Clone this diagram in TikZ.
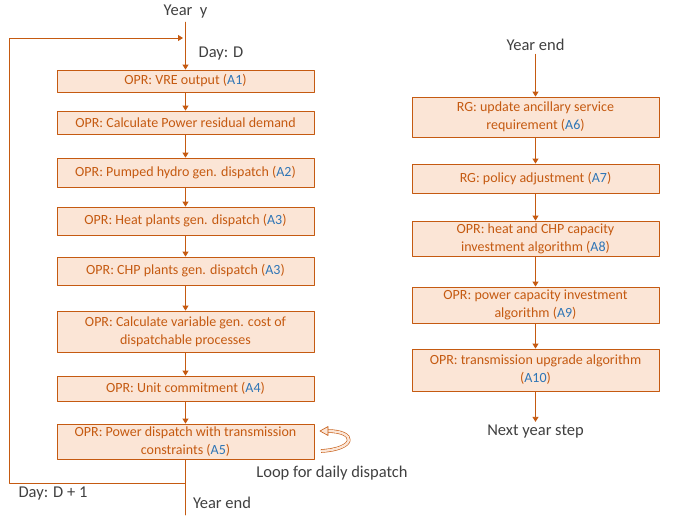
\documentclass[tikz,border=0pt]{standalone}
\usepackage{fontspec}
\setmainfont{Carlito}
\usetikzlibrary{arrows.meta}
\definecolor{Oedge}{RGB}{197,90,17}
\definecolor{Ofill}{RGB}{251,229,214}
\definecolor{Ablue}{RGB}{46,117,182}
\definecolor{Tgray}{RGB}{64,64,64}
\newcommand{\stepref}[1]{(\textcolor{Ablue}{#1})}

\begin{document}
\begin{tikzpicture}[x=1pt,y=-1pt,line cap=round,line join=round,
  opr/.style={draw=Oedge,fill=Ofill,text=Oedge,line width=0.8pt,inner sep=0pt,
    align=center,font=\fontsize{14}{18}\selectfont},
  lbox/.style={opr,minimum width=257pt},
  rbox/.style={opr,minimum width=247pt},
  lab/.style={text=Tgray,font=\fontsize{16.5}{18}\selectfont},
  flow/.style={draw=Oedge,line width=0.8pt,-{Triangle[length=5pt,width=6pt]}},
  wire/.style={draw=Oedge,line width=0.8pt}]
\path[use as bounding box] (0,0) rectangle (675,515);
% daily loop
\node[lab] (yeary) at (185.5,12) {Year~~y};
\node[lab] (dayd) at (221,54) {Day: D};
\node[lbox,minimum height=22pt] (a1) at (185.5,81) {OPR: VRE output \stepref{A1}};
\node[lbox,minimum height=23pt] (dem) at (185.5,122.5) {OPR: Calculate Power residual demand};
\node[lbox,minimum height=29pt] (a2) at (185.5,172.5) {OPR: Pumped hydro gen. dispatch \stepref{A2}};
\node[lbox,minimum height=28pt] (heat) at (185.5,221) {OPR: Heat plants gen. dispatch \stepref{A3}};
\node[lbox,minimum height=28pt] (chp) at (185.5,271) {OPR: CHP plants gen. dispatch \stepref{A3}};
\node[lbox,minimum height=41pt] (cost) at (185.5,331.5) {OPR: Calculate variable gen. cost of\\dispatchable processes};
\node[lbox,minimum height=25pt] (a4) at (185.5,388.5) {OPR: Unit commitment \stepref{A4}};
\node[lbox,minimum height=35pt] (a5) at (185.5,441.5) {OPR: Power dispatch with transmission\\constraints \stepref{A5}};
\node[lab] (loop) at (332,473) {Loop for daily dispatch};
\node[lab] (dayd1) at (53,494) {Day: D + 1};
\node[lab] (yend) at (222,503) {Year end};
\coordinate (ret) at (185.5,483);
\coordinate (bl) at (9,483);
\coordinate (tl) at (9,38);
\coordinate (tr) at (183,38);
\coordinate (bot) at (185.5,515);
\draw[flow] (yeary.south) -- (a1.north);
\draw[flow] (a1) -- (dem);
\draw[flow] (dem) -- (a2);
\draw[flow] (a2) -- (heat);
\draw[flow] (heat) -- (chp);
\draw[flow] (chp) -- (cost);
\draw[flow] (cost) -- (a4);
\draw[flow] (a4) -- (a5);
\draw[wire] (a5.south) -- (bot);
\draw[flow] (ret) -- (bl) -- (tl) -- (tr);
% curved loop arrow
\draw[draw=Oedge,line width=0.6pt,double=Ofill,double distance=2.4pt,line cap=butt] (321,451) .. controls (357,449) and (357,431) .. (327,431);
\draw[draw=Oedge,fill=Ofill,line width=0.6pt] (320,431) -- (328,426.5) -- (328,435.5) -- cycle;
% yearly steps
\node[lab] (yend2) at (535.5,45) {Year end};
\node[rbox,minimum height=40pt] (a6) at (535.5,117) {RG: update ancillary service\\requirement \stepref{A6}};
\node[rbox,minimum height=29pt] (a7) at (535.5,178.5) {RG: policy adjustment \stepref{A7}};
\node[rbox,minimum height=35pt] (a8) at (535.5,238.5) {OPR: heat and CHP capacity\\investment algorithm \stepref{A8}};
\node[rbox,minimum height=36pt] (a9) at (535.5,305) {OPR: power capacity investment\\algorithm \stepref{A9}};
\node[rbox,minimum height=42pt] (a10) at (535.5,370) {OPR: transmission upgrade algorithm\\\stepref{A10}};
\node[lab] (next) at (535.5,432) {Next year step};
\draw[flow] (yend2.south) -- (a6.north);
\draw[flow] (a6) -- (a7);
\draw[flow] (a7) -- (a8);
\draw[flow] (a8) -- (a9);
\draw[flow] (a9) -- (a10);
\draw[flow] (a10) -- (next);
\end{tikzpicture}
\end{document}
